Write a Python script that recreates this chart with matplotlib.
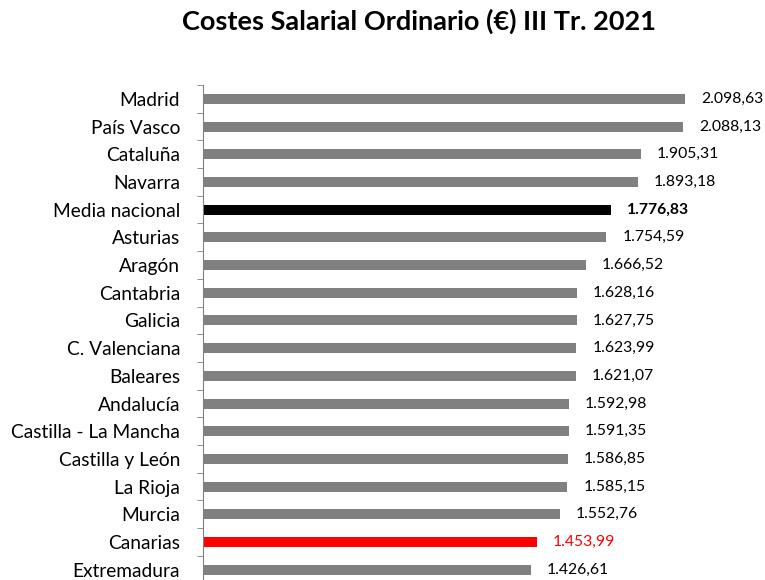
import matplotlib
matplotlib.use("Agg")
import matplotlib.pyplot as plt
import numpy as np

categories = ["Madrid", "País Vasco", "Cataluña", "Navarra", "Media nacional", "Asturias",
              "Aragón", "Cantabria", "Galicia", "C. Valenciana", "Baleares", "Andalucía",
              "Castilla - La Mancha", "Castilla y León", "La Rioja", "Murcia", "Canarias",
              "Extremadura"]
values = [2098.63, 2088.13, 1905.31, 1893.18, 1776.83, 1754.59, 1666.52, 1628.16, 1627.75,
          1623.99, 1621.07, 1592.98, 1591.35, 1586.85, 1585.15, 1552.76, 1453.99, 1426.61]
value_labels = ["2.098,63", "2.088,13", "1.905,31", "1.893,18", "1.776,83", "1.754,59",
                "1.666,52", "1.628,16", "1.627,75", "1.623,99", "1.621,07", "1.592,98",
                "1.591,35", "1.586,85", "1.585,15", "1.552,76", "1.453,99", "1.426,61"]
title = "Costes Salarial Ordinario (€) III Tr. 2021"

plt.rcParams['font.family'] = ['Lato', 'DejaVu Sans']

colors = []
for c in categories:
    if c == "Media nacional":
        colors.append("#000000")
    elif c == "Canarias":
        colors.append("#FF0000")
    else:
        colors.append("#808080")

fig = plt.figure(figsize=(7.65, 5.8), dpi=100)
W, H = 765, 580
left_px, top_px, step = 203, 85, 27.7
n = len(categories)
bottom_px = top_px + step * n
ax = fig.add_axes([left_px / W, 1 - bottom_px / H, 1 - left_px / W, (bottom_px - top_px) / H])

y = np.arange(n)
ax.barh(y, values, height=0.36, color=colors, edgecolor='none')
ax.set_ylim(n - 0.5, -0.5)
ax.set_xlim(0, (W - left_px) / 0.2298)

ax.set_yticks(y)
ax.set_yticklabels(categories, fontsize=13.8)
ax.tick_params(axis='y', which='major', length=0, pad=16.5)
ax.set_yticks(np.arange(-0.5, n, 1), minor=True)
ax.tick_params(axis='y', which='minor', length=4, direction='out', color='#808080')
ax.set_xticks([])
for s in ['top', 'right', 'bottom']:
    ax.spines[s].set_visible(False)
ax.spines['left'].set_color('#808080')

for i, (v, lab, c) in enumerate(zip(values, value_labels, categories)):
    col = '#FF0000' if c == "Canarias" else '#000000'
    fw = 'bold' if c == "Media nacional" else 'normal'
    ax.annotate(lab, (v, i), xytext=(16, 0), textcoords='offset pixels',
                va='center', ha='left', fontsize=11.3, color=col, fontweight=fw)

fig.text(419 / W, 1 - 21 / H, title, ha='center', va='center', fontsize=19.5, fontweight='bold')

fig.savefig("out.png", dpi=100)
